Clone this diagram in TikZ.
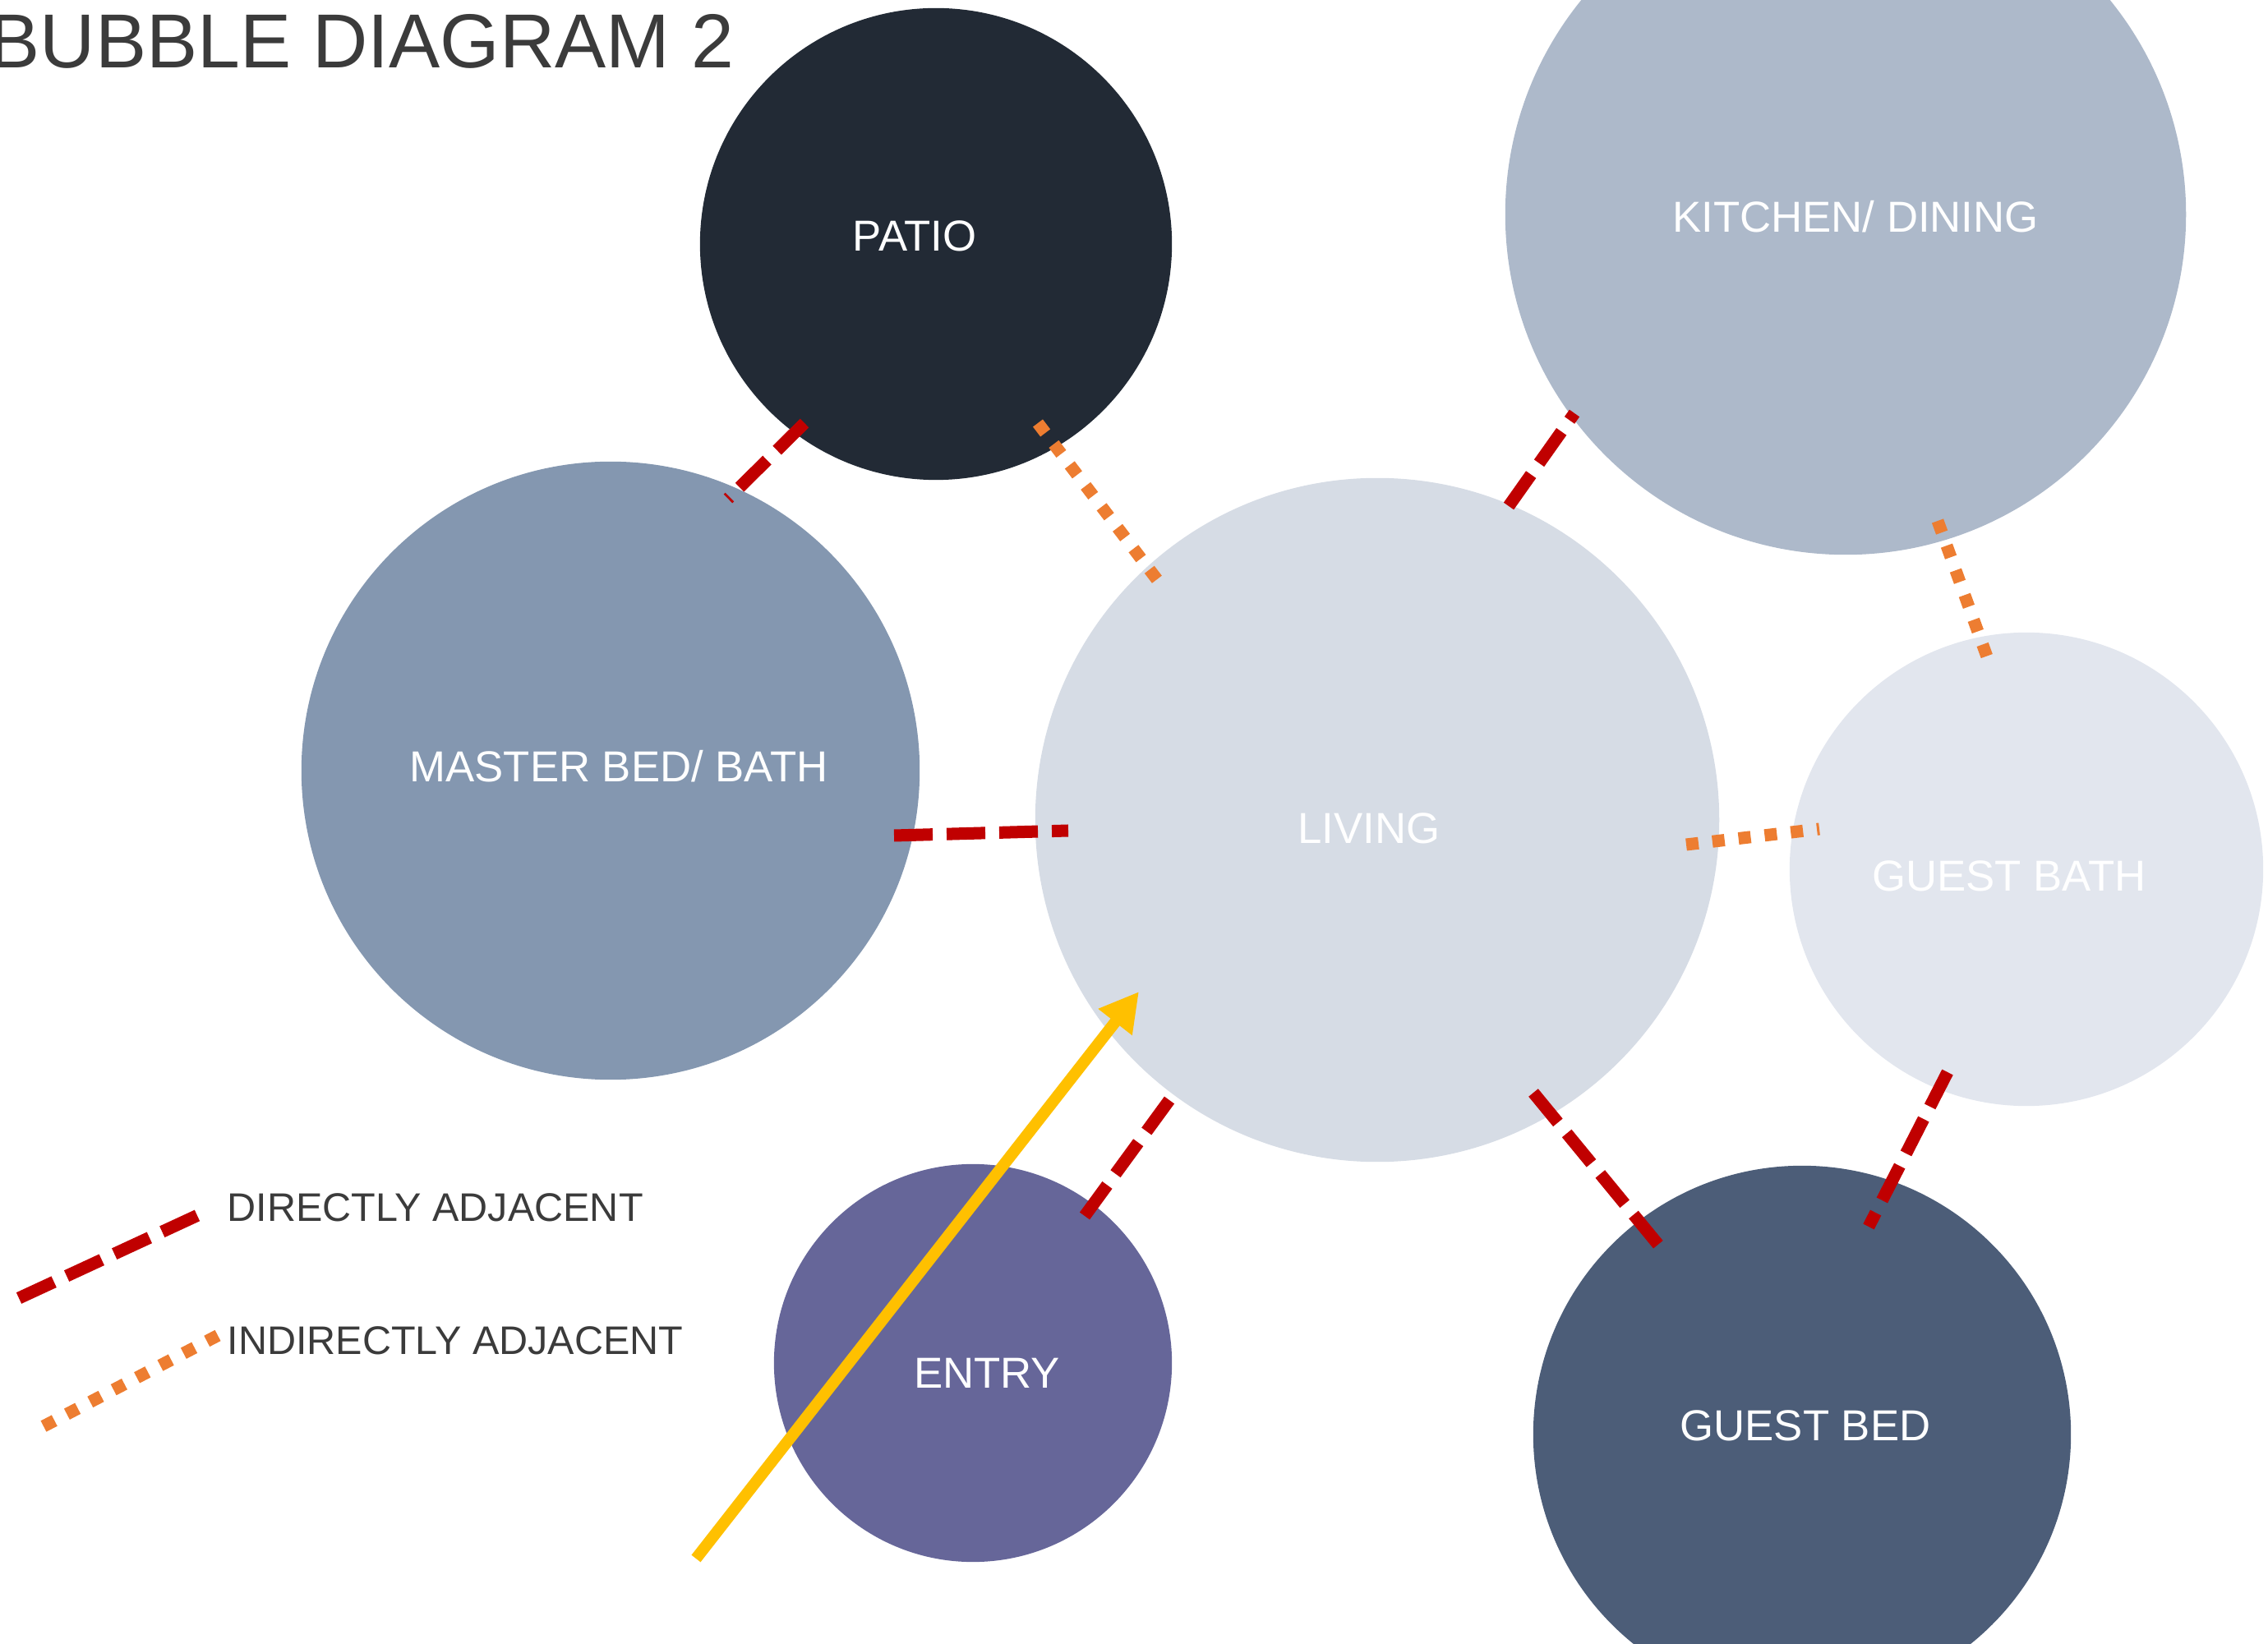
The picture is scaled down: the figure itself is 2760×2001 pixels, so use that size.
\documentclass[tikz,border=0pt]{standalone}
\usepackage{fontspec}
\setmainfont{Liberation Sans}
\usetikzlibrary{arrows.meta}

\definecolor{patiofill}{HTML}{222A35}
\definecolor{kitchenfill}{HTML}{ADB9CA}
\definecolor{masterfill}{HTML}{8497B0}
\definecolor{livingfill}{HTML}{D6DCE5}
\definecolor{bathfill}{HTML}{E2E6EE}
\definecolor{entryfill}{HTML}{666699}
\definecolor{bedfill}{HTML}{4C5D78}
\definecolor{adjred}{HTML}{C00000}
\definecolor{adjorange}{HTML}{ED7D31}
\definecolor{pathyellow}{HTML}{FFC000}
\definecolor{inkgrey}{HTML}{3B3B3B}

\begin{document}
\begin{tikzpicture}[x=0.01cm,y=-0.01cm,
	room/.style={circle,inner sep=0pt},
	roomname/.style={text=white,anchor=base,inner sep=0pt,font=\fontsize{15}{18}\selectfont},
	keytext/.style={text=inkgrey,anchor=base west,inner sep=0pt,font=\fontsize{13.8}{16}\selectfont},
	direct/.style={draw=adjred,line width=0.15cm,dash pattern=on 0.47cm off 0.17cm},
	indirect/.style={draw=adjorange,line width=0.15cm,dash pattern=on 0.15cm off 0.17cm}]
	\clip (0,0) rectangle (2760,2001);
	\useasboundingbox (0,0) rectangle (2760,2001);
	%
	\node[anchor=base west,inner sep=0pt,text=inkgrey,font=\fontsize{26.5}{32}\selectfont] (title) at (-14,83) {BUBBLE DIAGRAM 2};
	%
	\node[room,fill=patiofill,minimum size=5.74cm] (patio) at (1139,297) {};
	\node[room,fill=kitchenfill,minimum size=8.28cm] (kitchen) at (2246,261) {};
	\node[room,fill=masterfill,minimum size=7.52cm] (master) at (743,938) {};
	\node[room,fill=livingfill,minimum size=8.32cm] (living) at (1676,998) {};
	\node[room,fill=bathfill,minimum size=5.76cm] (bath) at (2466,1058) {};
	\node[room,fill=entryfill,minimum size=4.84cm] (entry) at (1184,1659) {};
	\node[room,fill=bedfill,minimum size=6.54cm] (bed) at (2193,1746) {};
	%
	\node[roomname] (patio-t) at (1113,306) {PATIO};
	\node[roomname] (kitchen-t) at (2258,283) {KITCHEN/ DINING};
	\node[roomname] (master-t) at (753,952) {MASTER BED/ BATH};
	\node[roomname] (living-t) at (1666,1027) {LIVING};
	\node[roomname] (bath-t) at (2445,1084) {GUEST BATH};
	\node[roomname] (entry-t) at (1201,1689) {ENTRY};
	\node[roomname] (bed-t) at (2197,1753) {GUEST BED};
	%
	\coordinate (patio-a) at (979,515);
	\coordinate (master-a) at (886,607);
	\coordinate (patio-b) at (1263,515);
	\coordinate (living-b) at (1410,708);
	\coordinate (living-c) at (1836,616);
	\coordinate (kitchen-c) at (1916,503);
	\coordinate (master-d) at (1088,1017);
	\coordinate (living-d) at (1300,1011);
	\coordinate (living-e) at (2052,1028);
	\coordinate (bath-e) at (2214,1009);
	\coordinate (kitchen-f) at (2358,634);
	\coordinate (bath-f) at (2419,802);
	\coordinate (living-g) at (1866,1330);
	\coordinate (bed-g) at (2018,1515);
	\coordinate (bath-h) at (2370,1305);
	\coordinate (bed-h) at (2274,1493);
	\coordinate (living-i) at (1423,1339);
	\coordinate (entry-i) at (1320,1480);
	%
	\draw[direct] (patio-a) -- (master-a);
	\draw[indirect] (patio-b) -- (living-b);
	\draw[direct] (living-c) -- (kitchen-c);
	\draw[direct] (master-d) -- (living-d);
	\draw[indirect] (living-e) -- (bath-e);
	\draw[indirect] (kitchen-f) -- (bath-f);
	\draw[direct] (living-g) -- (bed-g);
	\draw[direct] (bath-h) -- (bed-h);
	\draw[direct] (living-i) -- (entry-i);
	%
	\coordinate (way-in) at (847,1897);
	\coordinate (way-to) at (1386,1207);
	\draw[pathyellow,line width=0.14cm,-{Triangle[width=0.49cm,length=0.47cm]}] (way-in) -- (way-to);
	%
	\coordinate (key1-a) at (23,1580);
	\coordinate (key1-b) at (241,1479);
	\coordinate (key2-a) at (53,1736);
	\coordinate (key2-b) at (266,1625);
	\draw[direct] (key1-a) -- (key1-b);
	\draw[indirect] (key2-a) -- (key2-b);
	\node[keytext] (key1) at (276,1486) {DIRECTLY ADJACENT};
	\node[keytext] (key2) at (276,1648) {INDIRECTLY ADJACENT};
\end{tikzpicture}
\end{document}
